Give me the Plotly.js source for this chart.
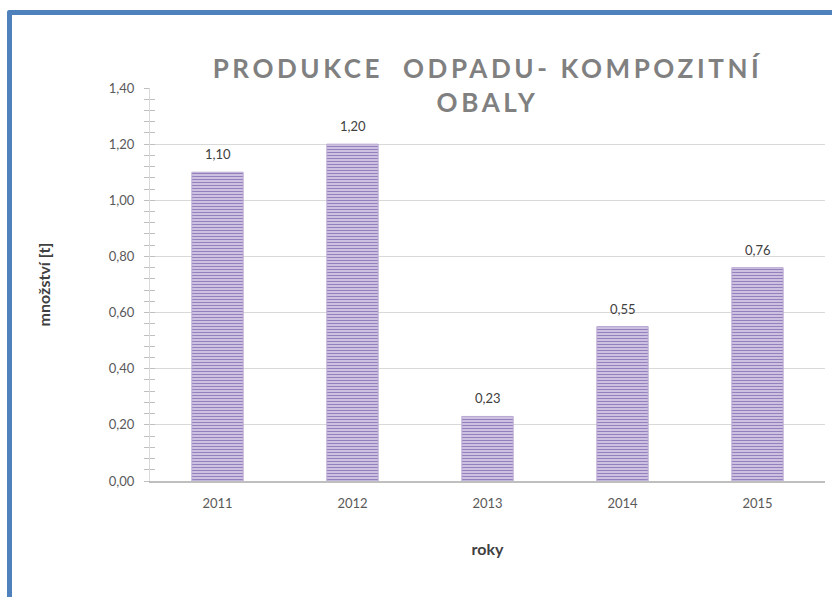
<!DOCTYPE html>
<html>
<head>
<meta charset="utf-8">
<script src="https://cdn.plot.ly/plotly-3.0.1.min.js"></script>
<style>
  html, body { margin: 0; padding: 0; background: #fff; }
  #wrap { position: relative; width: 832px; height: 597px; overflow: hidden; }
  #chart { width: 832px; height: 597px; }
  #frame { position: absolute; left: 7px; top: 10px; width: 900px; height: 700px;
           border-left: 5px solid #4F81BD; border-top: 5px solid #4F81BD;
           border-top-left-radius: 3px; pointer-events: none; }
  .gtitle { letter-spacing: 3.6px; }
</style>
</head>
<body>
<div id="wrap">
  <div id="chart"></div>
  <div id="frame"></div>
</div>
<script>
const years = ["2011", "2012", "2013", "2014", "2015"];
const amounts = [1.10, 1.20, 0.23, 0.55, 0.76];
const yTicks = [0, 0.2, 0.4, 0.6, 0.8, 1.0, 1.2, 1.4];

const font = "Lato, 'Open Sans', sans-serif";

const trace = {
  type: "bar",
  x: years,
  y: amounts,
  marker: {
    color: "#DCD3EA",
    line: { color: "#B9A9D3", width: 1 },
    pattern: { shape: "-", fgcolor: "#957FBC", bgcolor: "#DFD7EC", size: 3, solidity: 0.5 }
  },
  hoverinfo: "skip"
};

const labels = years.map((yr, i) => ({
  x: i, y: amounts[i], xref: "x", yref: "y",
  text: amounts[i].toFixed(2).replace(".", ","),
  showarrow: false, yanchor: "bottom", yshift: 8,
  font: { family: font, size: 13, color: "#404040" }
}));

const layout = {
  width: 832, height: 597,
  margin: { l: 150, r: 7, t: 88, b: 116 },
  paper_bgcolor: "#ffffff",
  plot_bgcolor: "#ffffff",
  separators: ", ",
  showlegend: false,
  bargap: 0.62,
  font: { family: font, color: "#595959", size: 12 },
  annotations: labels,
  title: {
    text: "PRODUKCE  ODPADU- KOMPOZITNÍ<br>OBALY",
    font: { family: font, size: 26, color: "#808080", weight: "bold" },
    x: 0.5, xref: "paper",
    y: 0.869, yref: "container", yanchor: "middle"
  },
  xaxis: {
    type: "category",
    categoryorder: "array", categoryarray: years,
    range: [-0.5, years.length - 0.5],
    showline: true, linecolor: "#BFBFBF", linewidth: 2,
    ticks: "", showgrid: false,
    ticklabelstandoff: 9,
    tickfont: { family: font, size: 13, color: "#595959" },
    title: { text: "roky", font: { family: font, size: 16, color: "#404040", weight: "bold" }, standoff: 34 }
  },
  yaxis: {
    range: [0, 1.4],
    tickvals: yTicks,
    tickformat: ".2f",
    showgrid: true, gridcolor: "#D9D9D9", gridwidth: 1,
    zeroline: false,
    showline: true, linecolor: "#D9D9D9", linewidth: 1,
    ticks: "outside", ticklen: 5, tickcolor: "#BFBFBF",
    ticklabelstandoff: 7,
    minor: { dtick: 0.04, ticks: "outside", ticklen: 5, tickcolor: "#BFBFBF", showgrid: false },
    tickfont: { family: font, size: 13, color: "#595959" },
    title: { text: "množství [t]", font: { family: font, size: 16, color: "#404040", weight: "bold" }, standoff: 54 }
  },
  yaxis2: {
    overlaying: "y", range: [0, 1.4], showgrid: false, zeroline: false,
    showticklabels: false, tickvals: yTicks,
    ticks: "inside", ticklen: 5, tickcolor: "#BFBFBF",
    minor: { dtick: 0.04, ticks: "inside", ticklen: 5, tickcolor: "#BFBFBF", showgrid: false }
  }
};

const dummy = { type: "scatter", x: years, y: amounts, yaxis: "y2", mode: "none", hoverinfo: "skip", showlegend: false };

Plotly.newPlot("chart", [trace, dummy], layout, { displayModeBar: false, staticPlot: true });
</script>
</body>
</html>
